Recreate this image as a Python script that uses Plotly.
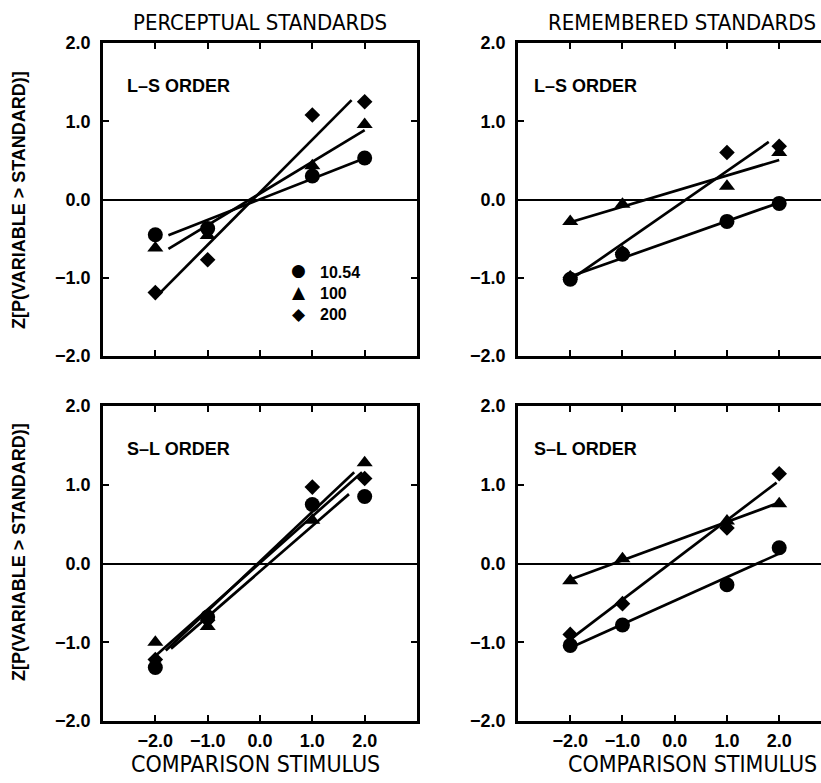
import numpy as np
import plotly.graph_objects as go

# Comparison stimulus levels (standard is at 0)
x_levels = [-2.0, -1.0, 1.0, 2.0]
series_names = ["10.54", "100", "200"]

# z-scores of P(variable > standard), one list per standard magnitude
perc_ls_1054 = [-0.45, -0.37, 0.30, 0.53]
perc_ls_100 = [-0.62, -0.46, 0.43, 0.96]
perc_ls_200 = [-1.19, -0.77, 1.08, 1.25]

rem_ls_1054 = [-1.02, -0.70, -0.28, -0.05]
rem_ls_100 = [-0.28, -0.06, 0.17, 0.60]
rem_ls_200 = [-1.00, -0.68, 0.60, 0.68]

perc_sl_1054 = [-1.32, -0.68, 0.75, 0.85]
perc_sl_100 = [-1.00, -0.80, 0.55, 1.28]
perc_sl_200 = [-1.22, -0.72, 0.97, 1.08]

rem_sl_1054 = [-1.04, -0.78, -0.27, 0.20]
rem_sl_100 = [-0.22, 0.06, 0.54, 0.76]
rem_sl_200 = [-0.90, -0.51, 0.45, 1.14]

# x extent over which each least-squares line is drawn
perc_ls_span = [(-1.75, 2.0), (-1.75, 2.0), (-2.0, 1.75)]
rem_ls_span = [(-2.0, 2.0), (-2.0, 2.0), (-2.0, 1.8)]
perc_sl_span = [(-1.7, 1.7), (-2.0, 1.95), (-1.8, 1.8)]
rem_sl_span = [(-2.0, 2.0), (-2.0, 2.0), (-2.0, 1.95)]

x_tick_vals = [-2, -1, 0, 1, 2]
x_tick_text = ["\u22122.0", "\u22121.0", "0.0", "1.0", "2.0"]
y_tick_vals = [-2, -1, 0, 1, 2]
y_tick_text = ["\u22122.0", "\u22121.0", "0.0", "1.0", "2.0"]

col_titles = ["PERCEPTUAL STANDARDS", "REMEMBERED STANDARDS"]
row_labels = ["L\u2013S ORDER", "S\u2013L ORDER"]
x_title = "COMPARISON STIMULUS"
y_title = "Z[P(VARIABLE > STANDARD)]"
legend_glyphs = ["\u25cf", "\u25b2", "\u25c6"]

panels = [
    ("x", "y", [perc_ls_1054, perc_ls_100, perc_ls_200], perc_ls_span),
    ("x2", "y2", [rem_ls_1054, rem_ls_100, rem_ls_200], rem_ls_span),
    ("x3", "y3", [perc_sl_1054, perc_sl_100, perc_sl_200], perc_sl_span),
    ("x4", "y4", [rem_sl_1054, rem_sl_100, rem_sl_200], rem_sl_span),
]

W, H = 821, 783
symbols = ["circle", "triangle-up", "diamond"]
sizes = [15, 14, 12]

SANS_B = "Liberation Sans, Arial, sans-serif"
TICKFONT = dict(family=SANS_B, size=18, color="black", weight="bold")
TITLE = "DejaVu Sans Condensed, DejaVu Sans, sans-serif"

fig = go.Figure()

for p, (xa, ya, series, spans) in enumerate(panels):
    for k, (vals, (x0, x1)) in enumerate(zip(series, spans)):
        slope, icpt = np.polyfit(x_levels, vals, 1)
        fx = [x0, x1]
        fig.add_trace(go.Scatter(
            x=fx, y=[icpt + slope * v for v in fx], xaxis=xa, yaxis=ya,
            mode="lines", line=dict(color="black", width=2.7),
            showlegend=False, hoverinfo="skip"))
    for k, vals in enumerate(series):
        fig.add_trace(go.Scatter(
            x=x_levels, y=vals, xaxis=xa, yaxis=ya, mode="markers",
            name=series_names[k],
            marker=dict(symbol=symbols[k], size=sizes[k], color="black",
                        line=dict(width=0)),
            showlegend=False))


def px_x(v):
    return v / W


def px_y(v):
    return 1 - v / H


dom_x = [[px_x(103), px_x(417)], [px_x(518), 1.0]]
dom_y = [[px_y(356), px_y(43)], [px_y(721), px_y(406)]]
x_ranges = [[-3.0, 3.0], [-3.0, 2.8]]

axis_common = dict(
    showline=True, linecolor="black", linewidth=2.8,
    ticks="inside", ticklen=6, tickwidth=2, tickcolor="black",
    showgrid=False, tickfont=TICKFONT, fixedrange=True,
)

layout = {}
names = ["", "2", "3", "4"]
for i, n in enumerate(names):
    r, c = divmod(i, 2)
    layout["xaxis" + n] = dict(
        axis_common, domain=dom_x[c], range=x_ranges[c], anchor="y" + n,
        tickmode="array", tickvals=x_tick_vals, ticktext=x_tick_text,
        showticklabels=(r == 1), ticklabelstandoff=1,
        mirror="ticks", zeroline=False)
    layout["yaxis" + n] = dict(
        axis_common, domain=dom_y[r], range=[-2, 2], anchor="x" + n,
        tickmode="array", tickvals=y_tick_vals, ticktext=y_tick_text,
        ticklabelstandoff=6,
        mirror=("ticks" if c == 0 else False),
        zeroline=True, zerolinecolor="black", zerolinewidth=2.2)


def note(text, x, y, font, xanchor="center", yanchor="middle", angle=0,
         align="center"):
    return dict(text=text, x=px_x(x), y=px_y(y), xref="paper",
                yref="paper", showarrow=False, xanchor=xanchor,
                yanchor=yanchor, textangle=angle, font=font, align=align)


annotations = []
# column titles and x-axis titles
for c, t in enumerate(col_titles):
    annotations.append(note(t, [260, 682][c], 23,
                            dict(family=TITLE, size=22, color="black")))
    annotations.append(note(x_title, [255, 692][c], 764,
                            dict(family=TITLE, size=23, color="black")))
# row y titles
for r in range(2):
    annotations.append(note(y_title, 19, [200, 552][r],
                            dict(family=SANS_B, size=18, color="black",
                                 weight="bold"), angle=-90))
# order labels inside panels
for i in range(4):
    r, c = divmod(i, 2)
    annotations.append(note(row_labels[r], [125, 532][c], [86, 449][r],
                            dict(family=SANS_B, size=18, color="black",
                                 weight="bold"), xanchor="left"))
# key for the three standards (top-left panel)
annotations.append(note("<br>".join(legend_glyphs), 298, 292,
                        dict(family="DejaVu Sans", size=17, color="black")))
annotations.append(note("<br>".join(series_names), 318, 293,
                        dict(family=SANS_B, size=16, color="black",
                             weight="bold"), xanchor="left", align="left"))

fig.update_layout(
    width=W, height=H,
    margin=dict(l=0, r=0, t=0, b=0, autoexpand=False),
    paper_bgcolor="white", plot_bgcolor="white",
    annotations=annotations, showlegend=False,
    **layout,
)

fig.write_html("out.html")
